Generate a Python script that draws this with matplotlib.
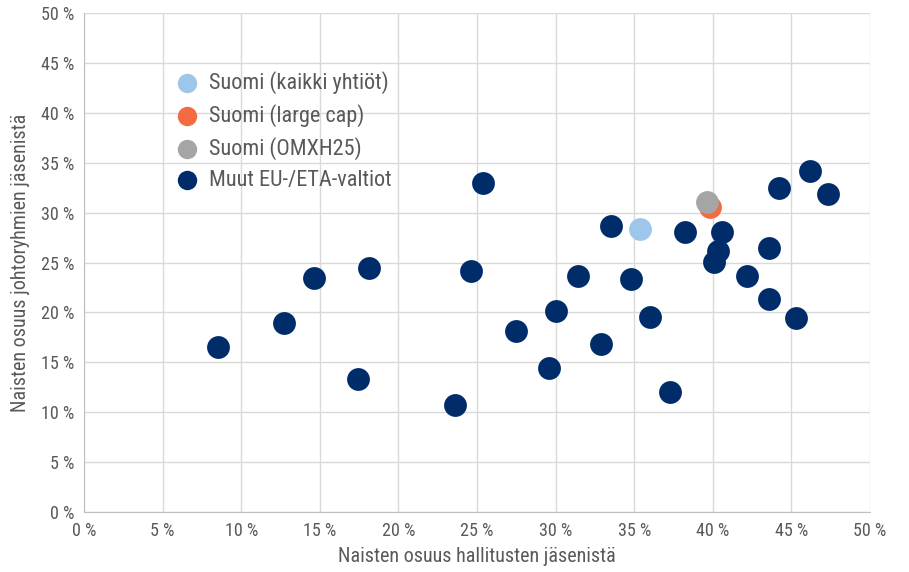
import matplotlib.pyplot as plt
from matplotlib import font_manager
from matplotlib.ticker import FuncFormatter

# ── DATA ──────────────────────────────────────────────────────────────────────
eu_x = [8.5, 12.7, 14.6, 17.4, 18.1, 23.6, 24.6, 25.4, 27.5, 29.6, 30.0, 31.4,
        32.9, 33.5, 34.8, 36.0, 37.3, 38.2, 40.6, 40.3, 40.1, 42.2, 43.6, 43.6,
        44.2, 45.3, 46.2, 47.3]
eu_y = [16.5, 18.9, 23.4, 13.3, 24.4, 10.7, 24.1, 33.0, 18.1, 14.4, 20.1, 23.6,
        16.8, 28.7, 23.3, 19.5, 12.0, 28.1, 28.1, 26.2, 25.1, 23.6, 26.5, 21.3,
        32.5, 19.4, 34.2, 31.9]

fi_all = (35.4, 28.4)
fi_large = (39.8, 30.6)
fi_omx = (39.6, 31.1)

labels = ["Suomi (kaikki yhtiöt)", "Suomi (large cap)", "Suomi (OMXH25)",
          "Muut EU-/ETA-valtiot"]

# ── STYLE ─────────────────────────────────────────────────────────────────────
NAVY = "#002d6a"
LIGHT = "#9dc6ea"
ORANGE = "#f26b43"
GREY = "#a5a5a5"
TEXT = "#595959"
GRID = "#d9d9d9"

installed = {f.name for f in font_manager.fontManager.ttflist}
families = [f for f in ["Roboto Condensed", "Liberation Sans Narrow", "Arial Narrow",
                        "Roboto", "DejaVu Sans"] if f in installed]
plt.rcParams["font.family"] = families

fig = plt.figure(figsize=(9.09, 5.72), dpi=100)
ax = fig.add_axes([84 / 909, 1 - 512 / 572, (870 - 84) / 909, (512 - 13) / 572])

S = 270
ax.scatter(eu_x, eu_y, s=S, color=NAVY, linewidths=0, zorder=3, label=labels[3])
ax.scatter([fi_all[0]], [fi_all[1]], s=S, color=LIGHT, linewidths=0, zorder=4, label=labels[0])
ax.scatter([fi_large[0]], [fi_large[1]], s=S, color=ORANGE, linewidths=0, zorder=4, label=labels[1])
ax.scatter([fi_omx[0]], [fi_omx[1]], s=S, color=GREY, linewidths=0, zorder=5, label=labels[2])

ax.set_xlim(0, 50)
ax.set_ylim(0, 50)
ax.set_xticks(range(0, 51, 5))
ax.set_yticks(range(0, 51, 5))
pct = FuncFormatter(lambda v, _: f"{int(v)} %")
ax.xaxis.set_major_formatter(pct)
ax.yaxis.set_major_formatter(pct)
ax.grid(True, color=GRID, linewidth=1)
ax.set_axisbelow(True)
for side in ["top", "right"]:
    ax.spines[side].set_visible(False)
for side in ["left", "bottom"]:
    ax.spines[side].set_color("#bfbfbf")
ax.tick_params(length=0, colors=TEXT, labelsize=13, pad=7)

ax.set_xlabel("Naisten osuus hallitusten jäsenistä", color=TEXT, fontsize=14.5, labelpad=5)
ax.set_ylabel("Naisten osuus johtoryhmien jäsenistä", color=TEXT, fontsize=14.5, labelpad=8)

handles, labs = ax.get_legend_handles_labels()
order = [labs.index(l) for l in labels]
leg = ax.legend([handles[i] for i in order], [labs[i] for i in order],
                loc="upper left", bbox_to_anchor=(0.08, 0.92), frameon=False,
                fontsize=16, labelcolor=TEXT, handletextpad=0.0,
                labelspacing=0.45, markerscale=0.85, borderpad=0.3)

fig.savefig("out.png", dpi=100)
